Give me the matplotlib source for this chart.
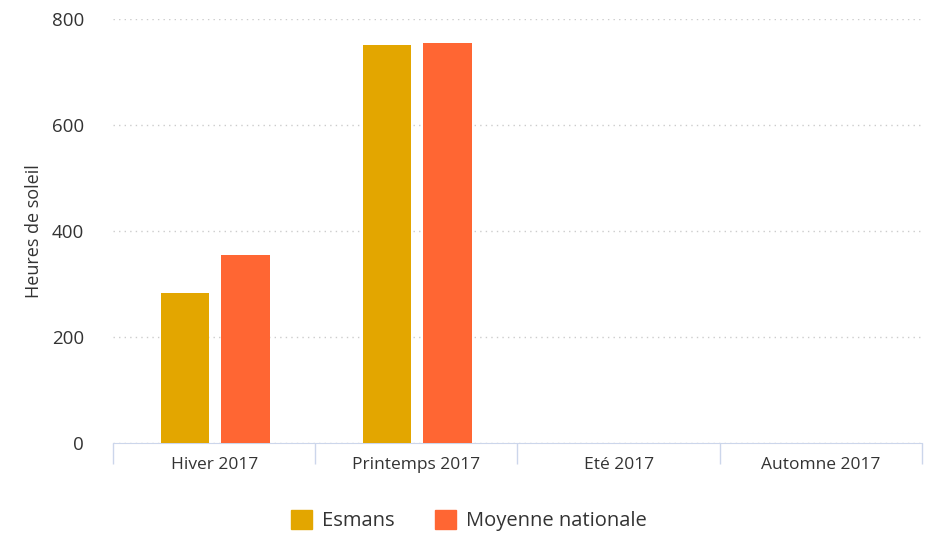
import matplotlib
matplotlib.use("Agg")
import matplotlib.pyplot as plt
import numpy as np
from matplotlib.patches import Patch

categories = ["Hiver 2017", "Printemps 2017", "Eté 2017", "Automne 2017"]
esmans = [283, 750, 0, 0]
moyenne = [355, 754, 0, 0]
series_names = ["Esmans", "Moyenne nationale"]
colors = ["#E3A600", "#FF6633"]
yticks = [0, 200, 400, 600, 800]

plt.rcParams['font.family'] = ['Open Sans', 'DejaVu Sans']
fig = plt.figure(figsize=(9.28, 5.35), dpi=100)
ax = fig.add_axes([0.1218, 0.172, 0.8717, 0.7925])

x = np.arange(len(categories))
w = 0.24
ax.bar(x - 0.145, esmans, width=w, color=colors[0], zorder=3)
ax.bar(x + 0.155, moyenne, width=w, color=colors[1], zorder=3)

ax.set_xlim(-0.5, len(categories) - 0.5)
ax.set_ylim(0, 800)
ax.set_yticks(yticks)
ax.set_yticklabels([str(v) for v in yticks], fontsize=13.5, color="#333333")
ax.tick_params(axis='y', length=0, pad=21)
ax.yaxis.grid(True, linestyle=(0, (1, 3)), color="#cccccc", linewidth=1, zorder=0)

ax.set_xticks(x)
ax.set_xticklabels(categories, fontsize=12.5, color="#333333")
ax.tick_params(axis='x', length=0, pad=10)
ax.set_xticks(np.arange(-0.5, len(categories)), minor=True)
ax.tick_params(axis='x', which='minor', length=15, color="#ccd6eb", width=1)

for s in ["top", "right", "left"]:
    ax.spines[s].set_visible(False)
ax.spines["bottom"].set_color("#ccd6eb")

ax.set_ylabel("Heures de soleil", fontsize=13, color="#333333", labelpad=6)

handles = [Patch(color=c, label=n) for c, n in zip(colors, series_names)]
fig.legend(handles=handles, loc="center", bbox_to_anchor=(0.505, 0.027), ncol=2,
           frameon=False, fontsize=14.5, handlelength=1.05, handleheight=1.05,
           handletextpad=0.5, columnspacing=2.0, labelcolor="#333333")

fig.savefig("out.png", dpi=100)
